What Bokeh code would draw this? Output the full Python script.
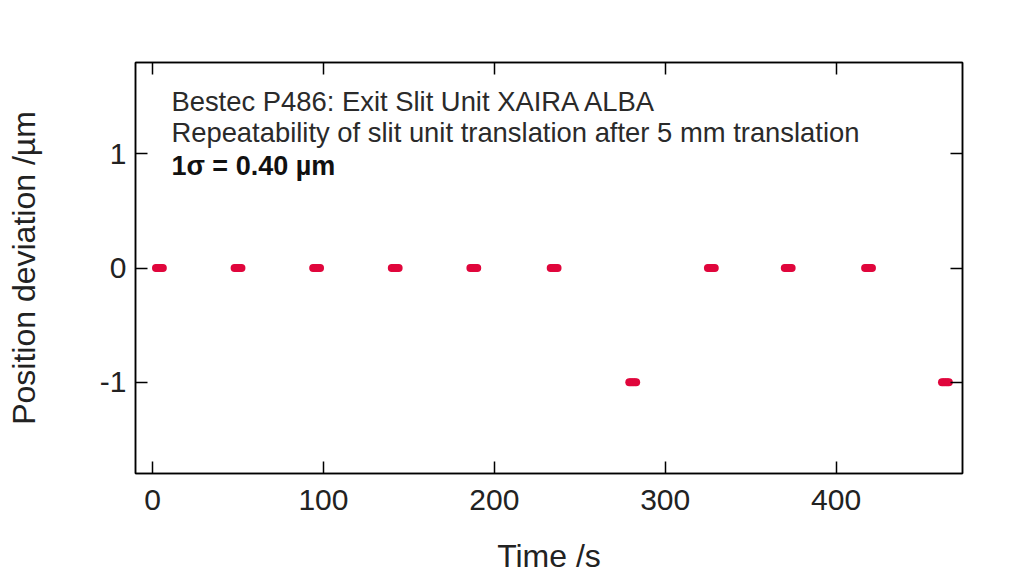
from bokeh.plotting import figure
from bokeh.models import LinearAxis, Label, Range1d, FixedTicker
from bokeh.embed import file_html
from bokeh.resources import INLINE

# Data (time in s, deviation in µm)
times = [2, 3, 4, 5, 6,
         48, 49, 50, 51, 52,
         94, 95, 96, 97, 98,
         140, 141, 142, 143, 144,
         186, 187, 188, 189, 190,
         233, 234, 235, 236, 237,
         279, 280, 281, 282, 283,
         325, 326, 327, 328, 329,
         370, 371, 372, 373, 374,
         417, 418, 419, 420, 421,
         462, 463, 464, 465, 466]
deviation = [0, 0, 0, 0, 0,
             0, 0, 0, 0, 0,
             0, 0, 0, 0, 0,
             0, 0, 0, 0, 0,
             0, 0, 0, 0, 0,
             0, 0, 0, 0, 0,
             -1, -1, -1, -1, -1,
             0, 0, 0, 0, 0,
             0, 0, 0, 0, 0,
             0, 0, 0, 0, 0,
             -1, -1, -1, -1, -1]
x_ticks = [0, 100, 200, 300, 400]
y_ticks = [-1, 0, 1]
title_lines = ["Bestec P486: Exit Slit Unit XAIRA ALBA",
               "Repeatability of slit unit translation after 5 mm translation"]
sigma_text = "1\u03c3 = 0.40 \u00b5m"

FONT = "Liberation Sans"
TXT = "#222222"

p = figure(width=1016, height=577, output_backend="svg", toolbar_location=None,
           x_range=Range1d(-10, 474), y_range=Range1d(-1.8, 1.8),
           min_border_left=135, min_border_right=54, min_border_top=62,
           min_border_bottom=104, x_axis_label="Time /s",
           y_axis_label="Position deviation /\u00b5m")
p.background_fill_color = "white"
p.border_fill_color = "white"
p.grid.visible = False
p.outline_line_color = "black"
p.outline_line_width = 1.5

def style_axis(ax, labels=True):
    ax.axis_line_color = "black"
    ax.axis_line_width = 1.5
    ax.major_tick_in = 12
    ax.major_tick_out = 0
    ax.major_tick_line_color = "black"
    ax.major_tick_line_width = 1.5
    ax.minor_tick_line_color = None
    ax.major_label_text_font = FONT
    ax.major_label_text_font_size = "30px"
    ax.major_label_text_color = TXT
    ax.axis_label_text_font = FONT
    ax.axis_label_text_font_size = "32px"
    ax.axis_label_text_font_style = "normal"
    ax.axis_label_text_color = TXT
    if not labels:
        ax.major_label_text_font_size = "0px"
        ax.major_label_text_color = None

p.xaxis.ticker = FixedTicker(ticks=x_ticks)
p.yaxis.ticker = FixedTicker(ticks=y_ticks)
p.yaxis.major_label_overrides = {-1: "-1", 0: "0", 1: "1"}
for ax in p.xaxis + p.yaxis:
    style_axis(ax)
p.xaxis.major_label_standoff = 16
p.xaxis.axis_label_standoff = 25
p.yaxis.major_label_standoff = 9
p.yaxis.axis_label_standoff = 55

top = LinearAxis(ticker=FixedTicker(ticks=x_ticks))
style_axis(top, labels=False)
p.add_layout(top, "above")
right = LinearAxis(ticker=FixedTicker(ticks=y_ticks))
style_axis(right, labels=False)
p.add_layout(right, "right")

p.scatter(times, deviation, size=8, color="#E0063C", line_color=None)

for txt, yv in zip(title_lines, [1.456, 1.186]):
    p.add_layout(Label(x=11, y=yv, text=txt, text_font=FONT,
                       text_font_size="27.4px", text_color="#2a2a2a",
                       text_baseline="alphabetic"))
p.add_layout(Label(x=11, y=0.89, text=sigma_text, text_font=FONT,
                   text_font_size="27px", text_font_style="bold",
                   text_color="#111111", text_baseline="alphabetic"))

open("out.html", "w").write(file_html(p, INLINE))
